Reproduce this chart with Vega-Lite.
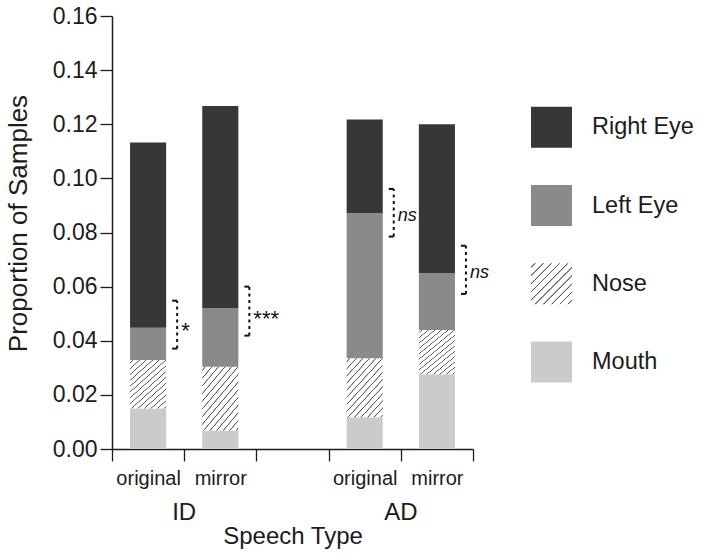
{
  "$schema": "https://vega.github.io/schema/vega-lite/v6.json",
  "width": 361,
  "height": 433,
  "autosize": {"type": "none"},
  "padding": {"left": 112, "top": 16, "right": 247, "bottom": 108},
  "config": {
    "view": {"stroke": null},
    "font": "Liberation Sans",
    "axis": {"grid": false, "labelColor": "#1c1c1c", "titleColor": "#1c1c1c", "domainColor": "#1c1c1c", "tickColor": "#1c1c1c", "titleFontWeight": "normal", "domainWidth": 1.5, "tickWidth": 1.3},
    "legend": {"labelColor": "#1c1c1c"}
  },
  "datasets": {
    "props": [
      {"speech": "ID", "version": "original", "part": "Mouth", "level": 1, "proportion": 0.0150},
      {"speech": "ID", "version": "original", "part": "Nose", "level": 2, "proportion": 0.0179},
      {"speech": "ID", "version": "original", "part": "Left Eye", "level": 3, "proportion": 0.0119},
      {"speech": "ID", "version": "original", "part": "Right Eye", "level": 4, "proportion": 0.0685},
      {"speech": "ID", "version": "mirror", "part": "Mouth", "level": 1, "proportion": 0.0068},
      {"speech": "ID", "version": "mirror", "part": "Nose", "level": 2, "proportion": 0.0236},
      {"speech": "ID", "version": "mirror", "part": "Left Eye", "level": 3, "proportion": 0.0216},
      {"speech": "ID", "version": "mirror", "part": "Right Eye", "level": 4, "proportion": 0.0747},
      {"speech": "AD", "version": "original", "part": "Mouth", "level": 1, "proportion": 0.0117},
      {"speech": "AD", "version": "original", "part": "Nose", "level": 2, "proportion": 0.0218},
      {"speech": "AD", "version": "original", "part": "Left Eye", "level": 3, "proportion": 0.0536},
      {"speech": "AD", "version": "original", "part": "Right Eye", "level": 4, "proportion": 0.0347},
      {"speech": "AD", "version": "mirror", "part": "Mouth", "level": 1, "proportion": 0.0276},
      {"speech": "AD", "version": "mirror", "part": "Nose", "level": 2, "proportion": 0.0164},
      {"speech": "AD", "version": "mirror", "part": "Left Eye", "level": 3, "proportion": 0.0210},
      {"speech": "AD", "version": "mirror", "part": "Right Eye", "level": 4, "proportion": 0.0550}
    ],
    "sig": [
      {"bar": "ID original", "lo": 0.0371, "hi": 0.0548, "mid": 0.0458, "label": "*"},
      {"bar": "ID mirror", "lo": 0.0419, "hi": 0.0600, "mid": 0.0504, "label": "***"},
      {"bar": "AD original", "lo": 0.0785, "hi": 0.0961, "mid": 0.0861, "label": "ns"},
      {"bar": "AD mirror", "lo": 0.0573, "hi": 0.0751, "mid": 0.0652, "label": "ns"}
    ]
  },
  "layer": [
    {
      "data": {"name": "props"},
      "mark": {"type": "bar"},
      "encoding": {
        "x": {
          "field": "speech", "type": "nominal",
          "scale": {"domain": ["ID", "AD"], "paddingInner": 0.33333, "paddingOuter": 0},
          "axis": {"orient": "bottom", "title": "Speech Type", "domain": false, "ticks": false, "labelAngle": 0, "labelFontSize": 24, "labelPadding": 0, "offset": 51, "titleFontSize": 24, "titlePadding": 0}
        },
        "xOffset": {"field": "version", "type": "nominal", "scale": {"domain": ["original", "mirror"], "paddingInner": 0.5, "paddingOuter": 0.25}},
        "y": {
          "field": "proportion", "type": "quantitative", "stack": "zero",
          "title": "Proportion of Samples",
          "scale": {"domain": [0, 0.16], "nice": false},
          "axis": {
            "title": "Proportion of Samples",
            "values": [0,0.005,0.01,0.015,0.02,0.025,0.03,0.035,0.04,0.045,0.05,0.055,0.06,0.065,0.07,0.075,0.08,0.085,0.09,0.095,0.1,0.105,0.11,0.115,0.12,0.125,0.13,0.135,0.14,0.145,0.15,0.155,0.16],
            "labelExpr": "abs(datum.value*50 - round(datum.value*50)) < 0.01 ? format(datum.value, '.2f') : ''",
            "tickSize": {"condition": {"test": "abs(datum.value*50 - round(datum.value*50)) < 0.01", "value": 12}, "value": 5},
            "labelFontSize": 23,
            "labelPadding": 3,
            "labelOverlap": false,
            "labelFlush": false,
            "titleFontSize": 26,
            "titleBaseline": "alphabetic",
            "titleX": -86,
            "titleY": 207
          }
        },
        "fill": {
          "field": "part", "type": "nominal",
          "scale": {"domain": ["Right Eye", "Left Eye", "Nose", "Mouth"], "range": ["#373737", "#8a8a8a",
            {"expr": "{gradient: 'linear', x1: 0, y1: 0, x2: 1, y2: 1, stops: [{offset: 0, color: '#ffffff'}, {offset: 0.038, color: '#ffffff'}, {offset: 0.046, color: '#555555'}, {offset: 0.054, color: '#555555'}, {offset: 0.062, color: '#ffffff'}, {offset: 0.138, color: '#ffffff'}, {offset: 0.146, color: '#555555'}, {offset: 0.154, color: '#555555'}, {offset: 0.162, color: '#ffffff'}, {offset: 0.238, color: '#ffffff'}, {offset: 0.246, color: '#555555'}, {offset: 0.254, color: '#555555'}, {offset: 0.262, color: '#ffffff'}, {offset: 0.338, color: '#ffffff'}, {offset: 0.346, color: '#555555'}, {offset: 0.354, color: '#555555'}, {offset: 0.362, color: '#ffffff'}, {offset: 0.438, color: '#ffffff'}, {offset: 0.446, color: '#555555'}, {offset: 0.454, color: '#555555'}, {offset: 0.462, color: '#ffffff'}, {offset: 0.538, color: '#ffffff'}, {offset: 0.546, color: '#555555'}, {offset: 0.554, color: '#555555'}, {offset: 0.562, color: '#ffffff'}, {offset: 0.638, color: '#ffffff'}, {offset: 0.646, color: '#555555'}, {offset: 0.654, color: '#555555'}, {offset: 0.662, color: '#ffffff'}, {offset: 0.738, color: '#ffffff'}, {offset: 0.746, color: '#555555'}, {offset: 0.754, color: '#555555'}, {offset: 0.762, color: '#ffffff'}, {offset: 0.838, color: '#ffffff'}, {offset: 0.846, color: '#555555'}, {offset: 0.854, color: '#555555'}, {offset: 0.862, color: '#ffffff'}, {offset: 0.938, color: '#ffffff'}, {offset: 0.946, color: '#555555'}, {offset: 0.954, color: '#555555'}, {offset: 0.962, color: '#ffffff'}, {offset: 1, color: '#ffffff'}]}"},
            "#cbcbcb"]},
          "condition": {"test": "datum.part === 'Nose'", "value": {"gradient": "linear", "x1": 0, "y1": 0, "x2": 0.773, "y2": 1.16, "stops": [
            {"offset": 0, "color": "#ffffff"},
            {"offset": 0.026, "color": "#ffffff"}, {"offset": 0.032, "color": "#555555"}, {"offset": 0.038, "color": "#555555"}, {"offset": 0.044, "color": "#ffffff"},
            {"offset": 0.098, "color": "#ffffff"}, {"offset": 0.104, "color": "#555555"}, {"offset": 0.110, "color": "#555555"}, {"offset": 0.116, "color": "#ffffff"},
            {"offset": 0.170, "color": "#ffffff"}, {"offset": 0.176, "color": "#555555"}, {"offset": 0.182, "color": "#555555"}, {"offset": 0.188, "color": "#ffffff"},
            {"offset": 0.242, "color": "#ffffff"}, {"offset": 0.248, "color": "#555555"}, {"offset": 0.254, "color": "#555555"}, {"offset": 0.260, "color": "#ffffff"},
            {"offset": 0.314, "color": "#ffffff"}, {"offset": 0.320, "color": "#555555"}, {"offset": 0.326, "color": "#555555"}, {"offset": 0.332, "color": "#ffffff"},
            {"offset": 0.386, "color": "#ffffff"}, {"offset": 0.392, "color": "#555555"}, {"offset": 0.398, "color": "#555555"}, {"offset": 0.404, "color": "#ffffff"},
            {"offset": 0.458, "color": "#ffffff"}, {"offset": 0.464, "color": "#555555"}, {"offset": 0.470, "color": "#555555"}, {"offset": 0.476, "color": "#ffffff"},
            {"offset": 0.530, "color": "#ffffff"}, {"offset": 0.536, "color": "#555555"}, {"offset": 0.542, "color": "#555555"}, {"offset": 0.548, "color": "#ffffff"},
            {"offset": 0.602, "color": "#ffffff"}, {"offset": 0.608, "color": "#555555"}, {"offset": 0.614, "color": "#555555"}, {"offset": 0.620, "color": "#ffffff"},
            {"offset": 0.674, "color": "#ffffff"}, {"offset": 0.680, "color": "#555555"}, {"offset": 0.686, "color": "#555555"}, {"offset": 0.692, "color": "#ffffff"},
            {"offset": 0.746, "color": "#ffffff"}, {"offset": 0.752, "color": "#555555"}, {"offset": 0.758, "color": "#555555"}, {"offset": 0.764, "color": "#ffffff"},
            {"offset": 0.818, "color": "#ffffff"}, {"offset": 0.824, "color": "#555555"}, {"offset": 0.830, "color": "#555555"}, {"offset": 0.836, "color": "#ffffff"},
            {"offset": 0.890, "color": "#ffffff"}, {"offset": 0.896, "color": "#555555"}, {"offset": 0.902, "color": "#555555"}, {"offset": 0.908, "color": "#ffffff"},
            {"offset": 0.962, "color": "#ffffff"}, {"offset": 0.968, "color": "#555555"}, {"offset": 0.974, "color": "#555555"}, {"offset": 0.980, "color": "#ffffff"},
            {"offset": 1, "color": "#ffffff"}
          ]}},
          "legend": {
            "orient": "none", "legendX": 419, "legendY": 90.7, "title": null,
            "symbolType": "square", "symbolSize": 1681, "symbolStrokeWidth": 0,
            "labelFontSize": 23.5, "labelOffset": 20, "rowPadding": 37.3, "padding": 0, "labelLimit": 0
          }
        },
        "order": {"field": "level", "type": "quantitative"}
      }
    },
    {
      "data": {"name": "sig"},
      "encoding": {
        "x": {
          "field": "bar", "type": "nominal", "bandPosition": 0.75,
          "scale": {"type": "band", "domain": ["ID original", "ID mirror", "gap", "AD original", "AD mirror"], "paddingInner": 0, "paddingOuter": 0},
          "axis": {"orient": "bottom", "title": null, "labelExpr": "(datum.value == null || datum.value === 'gap') ? '' : replace(replace(datum.value, 'ID ', ''), 'AD ', '')", "tickBand": "extent", "tickSize": 12, "labelAngle": 0, "labelFontSize": 20, "labelPadding": 7}
        }
      },
      "layer": [
        {
          "mark": {"type": "rule", "strokeDash": [3, 3.5], "strokeWidth": 2, "color": "#111111", "xOffset": 11},
          "encoding": {
            "y": {"field": "lo", "type": "quantitative", "title": "Proportion of Samples"},
            "y2": {"field": "hi"}
          }
        },
        {
          "transform": [{"fold": ["lo", "hi"], "as": ["end", "yv"]}],
          "mark": {"type": "rule", "strokeWidth": 2, "color": "#111111", "xOffset": 6, "x2Offset": 11},
          "encoding": {
            "x2": {"field": "bar", "bandPosition": 0.75},
            "y": {"field": "yv", "type": "quantitative", "title": "Proportion of Samples"}
          }
        },
        {
          "transform": [{"filter": "datum.label !== 'ns'"}],
          "mark": {"type": "text", "align": "left", "baseline": "middle", "fontSize": 22, "dx": 15, "dy": 6, "color": "#111111"},
          "encoding": {
            "y": {"field": "mid", "type": "quantitative", "title": "Proportion of Samples"},
            "text": {"field": "label"}
          }
        },
        {
          "transform": [{"filter": "datum.label === 'ns'"}],
          "mark": {"type": "text", "align": "left", "baseline": "middle", "fontSize": 18, "fontStyle": "italic", "dx": 15, "color": "#111111"},
          "encoding": {
            "y": {"field": "mid", "type": "quantitative", "title": "Proportion of Samples"},
            "text": {"field": "label"}
          }
        }
      ]
    }
  ],
  "resolve": {"scale": {"x": "independent"}, "axis": {"x": "independent"}}
}
